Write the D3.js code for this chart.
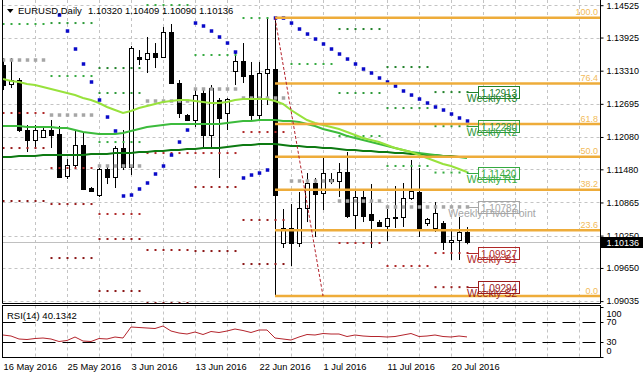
<!DOCTYPE html>
<html>
<head>
<meta charset="utf-8">
<script src="https://cdn.jsdelivr.net/npm/d3@7"></script>
<style>
  body { margin: 0; background: #fff; }
  svg { display: block; font-family: "Liberation Sans", Arial, sans-serif; }
</style>
</head>
<body>
<div id="chart"></div>
<script>
const width = 643, height = 378;

// Daily bars, the broker feed has short Sunday bars
const barDates = [
  "2016-05-16","2016-05-17","2016-05-18","2016-05-19","2016-05-20","2016-05-22","2016-05-23","2016-05-24","2016-05-25","2016-05-26",
  "2016-05-27","2016-05-29","2016-05-30","2016-05-31","2016-06-01","2016-06-02","2016-06-03","2016-06-05","2016-06-06","2016-06-07",
  "2016-06-08","2016-06-09","2016-06-10","2016-06-12","2016-06-13","2016-06-14","2016-06-15","2016-06-16","2016-06-17","2016-06-19",
  "2016-06-20","2016-06-21","2016-06-22","2016-06-23","2016-06-24","2016-06-26","2016-06-27","2016-06-28","2016-06-29","2016-06-30",
  "2016-07-01","2016-07-03","2016-07-04","2016-07-05","2016-07-06","2016-07-07","2016-07-08","2016-07-10","2016-07-11","2016-07-12",
  "2016-07-13","2016-07-14","2016-07-15","2016-07-17","2016-07-18","2016-07-19","2016-07-20","2016-07-21","2016-07-22"];

const openPrices = [
  1.13415,1.13063,1.13137,1.12209,1.12024,1.12079,1.12209,1.12135,1.11356,1.11560,
  1.11931,1.11133,1.11003,1.11486,1.11337,1.11875,1.11523,1.13563,1.13526,1.13638,
  1.13563,1.14027,1.13081,1.12487,1.12395,1.12896,1.12116,1.12766,1.12525,1.13304,
  1.13489,1.13230,1.12487,1.13267,1.13341,1.10113,1.10391,1.10113,1.10762,1.11226,
  1.11040,1.11300,1.11263,1.11430,1.10632,1.10966,1.10651,1.10502,1.10428,1.10577,
  1.10595,1.10947,1.11059,1.10484,1.10391,1.10484,1.10131,1.10169,1.10320];
const highPrices = [
  1.13545,1.13545,1.13174,1.12302,1.12302,1.12246,1.12395,1.12284,1.11671,1.12209,
  1.12154,1.11152,1.11504,1.11523,1.11912,1.12209,1.13767,1.13693,1.13935,1.13823,
  1.14120,1.14176,1.13137,1.12506,1.12970,1.12951,1.13044,1.12803,1.12803,1.13638,
  1.13823,1.13471,1.13471,1.14287,1.14293,1.10743,1.10836,1.11059,1.11411,1.11319,
  1.11690,1.11411,1.11597,1.11801,1.11096,1.11096,1.11207,1.10540,1.10743,1.11170,
  1.11226,1.11653,1.11504,1.10577,1.10873,1.10521,1.10354,1.10595,1.10409];
const lowPrices = [
  1.12951,1.12988,1.12172,1.11801,1.11894,1.12061,1.11875,1.11319,1.11300,1.11486,
  1.11096,1.11059,1.10966,1.11207,1.11133,1.11467,1.11374,1.13415,1.13267,1.13359,
  1.13545,1.13063,1.12432,1.12376,1.12265,1.11894,1.11894,1.11319,1.12209,1.13044,
  1.13081,1.12395,1.12395,1.12673,1.09129,1.10020,1.09686,1.10039,1.10502,1.10224,
  1.10725,1.11207,1.10966,1.10577,1.10354,1.10502,1.10020,1.10410,1.10150,1.10391,
  1.10410,1.10911,1.10224,1.10428,1.10317,1.09983,1.09798,1.09798,1.10090];
const closePrices = [
  1.13044,1.13137,1.12209,1.12024,1.12209,1.12209,1.12116,1.11337,1.11560,1.11931,
  1.11115,1.11077,1.11486,1.11337,1.11875,1.11523,1.13730,1.13526,1.13638,1.13563,
  1.14027,1.13081,1.12525,1.12395,1.12858,1.12116,1.12988,1.12432,1.12784,1.13489,
  1.13211,1.12487,1.13267,1.13341,1.11003,1.10391,1.10113,1.10762,1.11226,1.11022,
  1.11411,1.11263,1.11430,1.10614,1.10966,1.10614,1.10540,1.10428,1.10577,1.10595,
  1.10947,1.11077,1.10354,1.10558,1.10669,1.10131,1.10169,1.10317,1.10136];

// Moving averages (fast, middle, slow)
const maFast = [
  1.13155,1.13118,1.13100,1.13063,1.13044,1.13007,1.12970,1.12933,1.12896,1.12858,
  1.12803,1.12766,1.12710,1.12636,1.12580,1.12525,1.12562,1.12617,1.12654,1.12692,
  1.12729,1.12747,1.12766,1.12766,1.12747,1.12729,1.12710,1.12710,1.12729,1.12766,
  1.12784,1.12784,1.12784,1.12784,1.12747,1.12692,1.12580,1.12487,1.12395,1.12339,
  1.12302,1.12265,1.12228,1.12172,1.12116,1.12061,1.12024,1.11986,1.11931,1.11875,
  1.11838,1.11801,1.11745,1.11690,1.11634,1.11578,1.11541,1.11486,1.11430];
const maMid = [
  1.12283,1.12283,1.12283,1.12265,1.12265,1.12265,1.12265,1.12246,1.12246,1.12209,
  1.12172,1.12154,1.12135,1.12135,1.12135,1.12154,1.12191,1.12228,1.12265,1.12283,
  1.12302,1.12321,1.12321,1.12321,1.12321,1.12321,1.12321,1.12321,1.12339,1.12358,
  1.12376,1.12376,1.12395,1.12395,1.12395,1.12376,1.12376,1.12358,1.12321,1.12283,
  1.12228,1.12191,1.12154,1.12098,1.12061,1.12024,1.11986,1.11949,1.11912,1.11875,
  1.11838,1.11801,1.11782,1.11764,1.11745,1.11727,1.11708,1.11708,1.11690];
const maSlow = [
  1.11708,1.11708,1.11727,1.11727,1.11727,1.11745,1.11745,1.11745,1.11745,1.11745,
  1.11745,1.11764,1.11764,1.11764,1.11782,1.11782,1.11782,1.11801,1.11801,1.11820,
  1.11820,1.11838,1.11838,1.11857,1.11857,1.11875,1.11875,1.11875,1.11894,1.11912,
  1.11931,1.11931,1.11949,1.11949,1.11949,1.11931,1.11912,1.11912,1.11894,1.11894,
  1.11875,1.11875,1.11857,1.11838,1.11838,1.11820,1.11820,1.11801,1.11801,1.11782,
  1.11782,1.11764,1.11764,1.11745,1.11745,1.11727,1.11727,1.11708,1.11708];

// Parabolic SAR
const sarValues = [
  null,null,null,null,null,null,null,1.14343,1.14046,1.13712,
  1.13434,1.13100,1.12766,1.12450,1.12191,1.10985,1.11003,1.11115,1.11226,1.11393,
  1.11541,1.11745,1.11986,1.12209,1.14194,1.14139,1.14046,1.13935,1.13823,1.13656,
  1.11319,1.11374,1.11411,1.11467,1.14287,1.14287,1.14194,1.14083,1.13990,1.13897,
  1.13805,1.13712,1.13619,1.13526,1.13434,1.13341,1.13267,1.13174,1.13100,1.13025,
  1.12933,1.12858,1.12784,1.12710,1.12636,1.12580,1.12506,1.12432,1.12376];

// RSI(14)
const rsiValues = [
  44,42,36,35,37,38,36,31,33,40,
  32,31,37,36,40,38,60,59,58,57,
  62,52,48,46,50,45,51,49,52,56,
  53,49,54,54,38,36,34,40,45,44,
  47,46,46,41,44,42,41,41,40,41,
  44,47,41,42,44,41,40,42,40.1342];

// Weekly pivot levels (first and last bar of each week)
const weekStart = [0, 6, 12, 18, 24, 30, 36, 42, 48, 54];
const weekEnd   = [5, 11, 17, 23, 29, 35, 41, 47, 53, 58];
const pivotR3 = [null, null, 1.13359, null, null, null, null, 1.14083, 1.13378, 1.12913];
const pivotR2 = [null, 1.14194, 1.12896, null, null, null, null, 1.12896, 1.12617, 1.12280];
const pivotR1 = [1.14176, 1.13211, 1.11986, 1.14528, 1.13601, 1.14287, 1.13434, 1.12098, 1.11542, 1.11420];
const pivotPP = [1.13508, 1.12487, 1.11542, 1.12747, 1.12970, 1.12803, 1.11263, 1.10892, 1.10781, 1.10782];
const pivotS1 = [1.12525, 1.11504, 1.10651, 1.11782, 1.11782, 1.12172, null, 1.10113, 1.09686, 1.09927];
const pivotS2 = [1.11875, 1.10836, 1.10187, 1.09983, 1.11152, 1.10540, null, null, null, 1.09294];
const pivotS3 = [1.10892, 1.09834, 1.09222, 1.08999, 1.09964, 1.09723, null, null, null, null];

// Fibonacci retracement of the 24 Jun range
const fibHigh = 1.14293, fibLow = 1.09129;
const fibFrom = 34, fibTo = 40;
const fibLevels = [100.0, 76.4, 61.8, 50.0, 38.2, 23.6, 0.0];

// Axis ticks
const priceTicks = [1.14525, 1.13925, 1.13310, 1.12695, 1.12080, 1.11480, 1.10865, 1.10250, 1.09650, 1.09035];
const rsiTicks = [100, 70, 30, 0];
const rsiLevels = [70, 30];
const dateTicks = [0, 8, 16, 24, 32, 40, 48, 56];

/*******************************/
/*    Containers and scales    */
/*******************************/
const svg = d3.select("#chart")
  .append("svg")
    .attr("width", width)
    .attr("height", height)
    .attr("viewBox", `0 0 ${width} ${height}`);

svg.append("rect").attr("width", width).attr("height", height).attr("fill", "#fff");

const plot = { left: 2.5, right: 600.5, bottom: 303.5 };
const rsiBox = { top: 305.5, bottom: 357.5 };

const xScale = d3.scaleLinear().domain([0, 58]).range([3, 467]);
const yScale = d3.scaleLinear().domain([1.09035, 1.14525]).range([301.1, 5.2]);
const rsiScale = d3.scaleLinear().domain([0, 100]).range([357, 307]);
const px = v => Math.round(v) + 0.5;

svg.append("clipPath").attr("id", "main-clip")
  .append("rect").attr("x", 3).attr("y", 0).attr("width", 597).attr("height", 303);
svg.append("clipPath").attr("id", "rsi-clip")
  .append("rect").attr("x", 3).attr("y", 306).attr("width", 597).attr("height", 51);

const main = svg.append("g").attr("clip-path", "url(#main-clip)");
const rsiG = svg.append("g").attr("clip-path", "url(#rsi-clip)");

/*******************************/
/*    Grid                     */
/*******************************/
const gridIdx = d3.range(4, 73, 4);
[[main, 0, plot.bottom], [rsiG, rsiBox.top, rsiBox.bottom]].forEach(([g, y1, y2]) => {
  g.selectAll(".vgrid")
    .data(gridIdx)
    .join("line")
      .attr("class", "vgrid")
      .attr("x1", d => px(xScale(d))).attr("x2", d => px(xScale(d)))
      .attr("y1", y1).attr("y2", y2)
      .attr("stroke", "#c4c4c4")
      .attr("stroke-dasharray", "3,3");
});
main.selectAll(".hgrid")
  .data(priceTicks)
  .join("line")
    .attr("class", "hgrid")
    .attr("x1", plot.left).attr("x2", plot.right)
    .attr("y1", d => px(yScale(d))).attr("y2", d => px(yScale(d)))
    .attr("stroke", "#c4c4c4")
    .attr("stroke-dasharray", "3,3");

// current bid line
const lastClose = closePrices[closePrices.length - 1];
main.append("line")
  .attr("x1", plot.left).attr("x2", plot.right)
  .attr("y1", px(yScale(lastClose))).attr("y2", px(yScale(lastClose)))
  .attr("stroke", "#c0c0c0");

/*******************************/
/*    Candles                  */
/*******************************/
const bars = barDates.map((d, i) => ({
  i, date: d, o: openPrices[i], h: highPrices[i], l: lowPrices[i], c: closePrices[i]
}));

main.selectAll(".wick")
  .data(bars)
  .join("line")
    .attr("class", "wick")
    .attr("x1", d => px(xScale(d.i))).attr("x2", d => px(xScale(d.i)))
    .attr("y1", d => yScale(d.h)).attr("y2", d => yScale(d.l))
    .attr("stroke", "#000");

main.selectAll(".body")
  .data(bars)
  .join("rect")
    .attr("class", "body")
    .attr("x", d => Math.round(xScale(d.i)) - 1.5)
    .attr("y", d => Math.round(yScale(Math.max(d.o, d.c))) + 0.5)
    .attr("width", 4)
    .attr("height", d => Math.max(1, Math.round(yScale(Math.min(d.o, d.c))) - Math.round(yScale(Math.max(d.o, d.c)))))
    .attr("fill", d => d.c >= d.o ? "#fff" : "#000")
    .attr("stroke", "#000");

/*******************************/
/*    Weekly pivots            */
/*******************************/
const pivotSets = [
  { key: "R3", values: pivotR3, color: "#22822b", size: 2, label: "Weekly R3" },
  { key: "R2", values: pivotR2, color: "#2e9a3a", size: 2, label: "Weekly R2" },
  { key: "R1", values: pivotR1, color: "#35aa40", size: 2, label: "Weekly R1" },
  { key: "PP", values: pivotPP, color: "#a6a6a6", size: 3.5, label: "Weekly Pivot Point" },
  { key: "S1", values: pivotS1, color: "#b02828", size: 2, label: "Weekly S1" },
  { key: "S2", values: pivotS2, color: "#9a1c1c", size: 2, label: "Weekly S2" },
  { key: "S3", values: pivotS3, color: "#8a1616", size: 2, label: "Weekly S3" }
];

const pivotDots = [];
pivotSets.forEach(set => {
  weekStart.forEach((s, w) => {
    if (set.values[w] == null) return;
    d3.range(s, weekEnd[w] + 1).forEach(i => pivotDots.push({ i, v: set.values[w], set }));
  });
});

main.selectAll(".pivot")
  .data(pivotDots)
  .join("rect")
    .attr("class", "pivot")
    .attr("x", d => xScale(d.i) - d.set.size / 2 + 0.5)
    .attr("y", d => yScale(d.v) - d.set.size / 2)
    .attr("width", d => d.set.size)
    .attr("height", d => d.set.size)
    .attr("fill", d => d.set.color);

/*******************************/
/*    Moving averages          */
/*******************************/
const maLine = d3.line().x((d, i) => xScale(i)).y(d => yScale(d));
[[maSlow, "#0d7a12"], [maMid, "#3cbb3c"], [maFast, "#98e23c"]].forEach(([vals, col]) => {
  main.append("path")
    .datum(vals)
    .attr("d", maLine)
    .attr("fill", "none")
    .attr("stroke", col)
    .attr("stroke-width", 2);
});

/*******************************/
/*    Parabolic SAR            */
/*******************************/
main.selectAll(".sar")
  .data(sarValues.map((v, i) => ({ i, v })).filter(d => d.v != null))
  .join("rect")
    .attr("class", "sar")
    .attr("x", d => xScale(d.i) - 1.25)
    .attr("y", d => yScale(d.v) - 1.75)
    .attr("width", 3.5)
    .attr("height", 3.5)
    .attr("fill", "#0a0ac8");

/*******************************/
/*    Fibonacci                */
/*******************************/
const fibPrice = lvl => fibLow + (fibHigh - fibLow) * lvl / 100;
main.selectAll(".fib")
  .data(fibLevels)
  .join("line")
    .attr("class", "fib")
    .attr("x1", xScale(fibFrom)).attr("x2", plot.right)
    .attr("y1", d => yScale(fibPrice(d))).attr("y2", d => yScale(fibPrice(d)))
    .attr("stroke", "#eeac3a")
    .attr("stroke-width", 2.5);

main.selectAll(".fib-label")
  .data(fibLevels)
  .join("text")
    .attr("class", "fib-label")
    .attr("x", 598)
    .attr("y", d => yScale(fibPrice(d)) - 2.5)
    .attr("text-anchor", "end")
    .attr("font-size", "9px")
    .attr("fill", "#f2bb5a")
    .text(d => d.toFixed(1));

main.append("line")
  .attr("x1", xScale(fibFrom)).attr("y1", yScale(fibHigh))
  .attr("x2", xScale(fibTo)).attr("y2", yScale(fibLow))
  .attr("stroke", "#b3202a")
  .attr("stroke-dasharray", "3,2");

/*******************************/
/*    Labels for last week     */
/*******************************/
const lastWeek = weekStart.length - 1;
const lastLabels = pivotSets.filter(s => s.values[lastWeek] != null)
  .map(s => ({ ...s, v: s.values[lastWeek] }));

const lab = main.selectAll(".plabel")
  .data(lastLabels)
  .join("g")
    .attr("class", "plabel")
    .attr("transform", d => `translate(0, ${Math.round(yScale(d.v)) + 0.5})`);
lab.append("line")
  .attr("x1", xScale(weekEnd[lastWeek])).attr("x2", 478)
  .attr("stroke", d => d.color);
lab.append("rect")
  .attr("x", 478.5).attr("y", -6).attr("width", 41).attr("height", 12)
  .attr("fill", "none")
  .attr("stroke", d => d.color);
lab.append("text")
  .attr("x", 481).attr("y", 4)
  .attr("font-size", "10px")
  .attr("fill", d => d.color)
  .text(d => d.v.toFixed(5));
lab.append("text")
  .attr("x", 492).attr("y", 9)
  .attr("text-anchor", "middle")
  .attr("font-size", "10.5px")
  .attr("fill", d => d.color)
  .text(d => d.label);

/*******************************/
/*    RSI                      */
/*******************************/
rsiG.selectAll(".rsi-level")
  .data(rsiLevels)
  .join("line")
    .attr("class", "rsi-level")
    .attr("x1", plot.left).attr("x2", plot.right)
    .attr("y1", d => px(rsiScale(d))).attr("y2", d => px(rsiScale(d)))
    .attr("stroke", "#000")
    .attr("stroke-dasharray", "13,7");

rsiG.append("path")
  .datum(rsiValues)
  .attr("d", d3.line().x((d, i) => xScale(i)).y(d => rsiScale(d)))
  .attr("fill", "none")
  .attr("stroke", "#b4242c")
  .attr("stroke-width", 1);

svg.append("text")
  .attr("x", 7).attr("y", 319)
  .attr("font-size", "9.5px")
  .text(`RSI(14) ${rsiValues[rsiValues.length - 1].toFixed(4)}`);

/*******************************/
/*    Frames and axes          */
/*******************************/
const frame = svg.append("g").attr("stroke", "#000").attr("fill", "none");
frame.append("path").attr("d", `M${plot.left},0V${plot.bottom}H${plot.right}V0`);
frame.append("rect")
  .attr("x", plot.left).attr("y", rsiBox.top)
  .attr("width", plot.right - plot.left).attr("height", rsiBox.bottom - rsiBox.top);

const styleAxis = (g, size) => {
  g.select(".domain").remove();
  g.selectAll("text").attr("font-family", "Liberation Sans, Arial, sans-serif")
    .attr("font-size", size).attr("fill", "#000");
  g.selectAll("line").attr("stroke", "#000");
};

svg.append("g")
  .attr("transform", `translate(${plot.right}, 0)`)
  .call(d3.axisRight(yScale).tickValues(priceTicks).tickSize(3).tickPadding(3)
    .tickFormat(d3.format(".5f")))
  .call(g => styleAxis(g, "9px"));

svg.append("g")
  .attr("transform", `translate(${plot.right}, 0)`)
  .call(d3.axisRight(rsiScale).tickValues(rsiTicks).tickSize(3).tickPadding(3))
  .call(g => styleAxis(g, "9px"))
  .call(g => g.selectAll("text")
    .attr("dy", d => d === 100 ? "1em" : d === 0 ? "-0.4em" : "0.32em"));

const parseDate = d3.timeParse("%Y-%m-%d");
const fmtDate = d3.timeFormat("%-d %b %Y");
svg.append("g")
  .attr("transform", `translate(0, ${rsiBox.bottom})`)
  .call(d3.axisBottom(xScale).tickValues(dateTicks).tickSize(0).tickPadding(6)
    .tickFormat(i => fmtDate(parseDate(barDates[i]))))
  .call(g => styleAxis(g, "9.3px"))
  .call(g => g.selectAll("text").attr("text-anchor", "start"));

// bid price tag
const bidY = Math.round(yScale(lastClose));
svg.append("rect")
  .attr("x", 601).attr("y", bidY - 5).attr("width", 42).attr("height", 11)
  .attr("fill", "#000");
svg.append("text")
  .attr("x", 606.5).attr("y", bidY + 3.5)
  .attr("font-size", "9px")
  .attr("fill", "#fff")
  .text(lastClose.toFixed(5));

/*******************************/
/*    Title                    */
/*******************************/
svg.append("path").attr("d", "M7,9H13.5L10.25,13Z").attr("fill", "#000");
svg.append("text")
  .attr("x", 18).attr("y", 14)
  .attr("font-size", "9.5px")
  .text("EURUSD,Daily");
const n = barDates.length - 1;
svg.append("text")
  .attr("x", 88).attr("y", 14)
  .attr("font-size", "9.5px")
  .text([openPrices[n], highPrices[n], lowPrices[n], closePrices[n]].map(v => v.toFixed(5)).join(" "));
</script>
</body>
</html>
